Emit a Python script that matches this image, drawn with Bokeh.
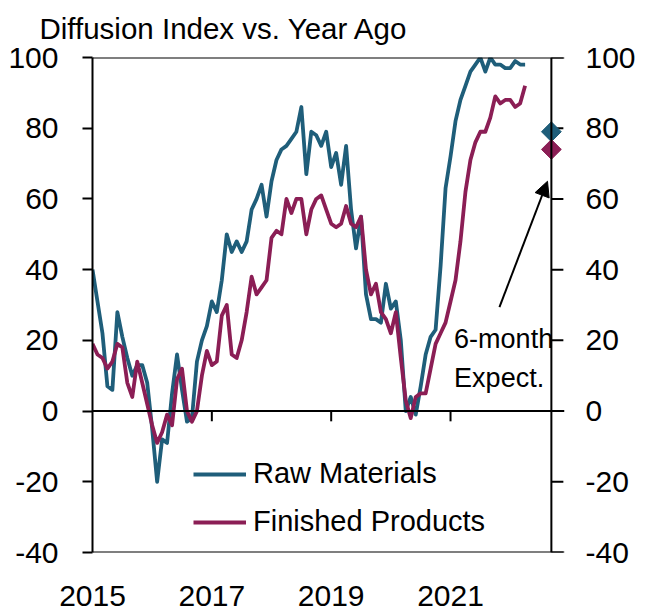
import math
from bokeh.plotting import figure
from bokeh.models import (Range1d, LinearAxis, FixedTicker, Span, Legend, LegendItem,
                          Arrow, NormalHead, Label, Title)
from bokeh.embed import file_html
from bokeh.resources import INLINE

# ---- data (monthly, starting Jan 2015) ----
start_year = 2015
raw_materials = [40, 31, 22, 7, 6, 28, 21, 15, 10, 13, 13, 8,
                 -5, -20, -8, -9, 5, 16, 6, -3, -2, 14, 20, 24,
                 31, 28, 37, 50, 45, 48, 45, 48, 57, 60, 64, 55,
                 65, 71, 74, 75, 77, 79, 86, 67, 79, 78, 75, 79,
                 69, 73, 64, 75, 57, 46, 55, 33, 26, 26, 25, 36,
                 29, 31, 20, 0, 4, -1, 7, 16, 21, 23, 41, 63,
                 72, 82, 88, 92, 96, 98, 100, 96, 100, 98, 98, 97,
                 97, 99, 98, 98]
finished_products = [19, 16, 15, 12, 14, 19, 18, 8, 4, 14, 8, 2,
                     -4, -9, -6, -1, -4, 9, 12, 0, -3, 0, 10, 17,
                     13, 14, 27, 30, 16, 15, 20, 28, 38, 33, 35, 37,
                     49, 51, 50, 60, 56, 60, 60, 50, 57, 60, 61, 57,
                     53, 52, 53, 58, 53, 52, 55, 40, 33, 36, 28, 26,
                     22, 28, 15, 3, -2, 4, 5, 5, 12, 19, 22, 25,
                     31, 37, 48, 62, 71, 76, 79, 79, 83, 89, 87, 88,
                     88, 86, 87, 92]
expect_values = [79, 74]          # 6-month expectation: raw, finished
expect_date = 2022.69             # plotted on the right-hand axis
y_ticks = [-40, -20, 0, 20, 40, 60, 80, 100]
year_ticks = [2015, 2017, 2019, 2021]
series_names = ["Raw Materials", "Finished Products"]
title_text = "Diffusion Index vs. Year Ago"

months = [start_year + i / 12 for i in range(len(raw_materials))]

SANS = "Liberation Sans"
BLUE = "#1f5e7a"
RED = "#8b1e55"
TICK_FONT = "30px"
TICK_LEN_YEARS = 0.201   # 12px tick length of the right axis, in x units
TICK_LEN_Y = 2.9         # 10px tick length on the zero line, in y units

p = figure(width=649, height=615,
           x_range=Range1d(2015, 2022.91), y_range=Range1d(-40, 100),
           output_backend="svg", toolbar_location=None, title=None,
           x_axis_type=None, y_axis_type=None,
           min_border_left=92, min_border_right=85,
           min_border_top=56, min_border_bottom=63)
p.outline_line_color = None
p.background_fill_color = "white"
p.border_fill_color = "white"

p.add_layout(Title(text=title_text, align="left", offset=-53, standoff=22,
                   vertical_align="top",
                   text_font=SANS, text_font_size="29.5px",
                   text_font_style="normal", text_color="black"), "above")

y_labels = {t: str(t) for t in y_ticks}

left_axis = LinearAxis(ticker=FixedTicker(ticks=y_ticks),
                       major_label_overrides=y_labels,
                       axis_line_width=2, axis_line_color="black",
                       major_tick_line_width=2, major_tick_line_color="black",
                       major_tick_out=10, major_tick_in=0,
                       minor_tick_line_color=None,
                       major_label_standoff=24,
                       major_label_text_font=SANS,
                       major_label_text_font_size=TICK_FONT,
                       major_label_text_color="black")
p.add_layout(left_axis, "left")

# right-hand labels (axis line and ticks are drawn at the expectation date)
right_axis = LinearAxis(ticker=FixedTicker(ticks=y_ticks),
                        major_label_overrides=y_labels,
                        axis_line_color=None, major_tick_line_color=None,
                        major_tick_out=0, major_tick_in=0,
                        minor_tick_line_color=None,
                        major_label_standoff=21,
                        major_label_text_font=SANS,
                        major_label_text_font_size=TICK_FONT,
                        major_label_text_color="black")
p.add_layout(right_axis, "right")

xaxis = LinearAxis(ticker=FixedTicker(ticks=year_ticks),
                   axis_line_color=None, major_tick_line_color=None,
                   major_tick_out=0, major_tick_in=0,
                   minor_tick_line_color=None, major_label_standoff=33,
                   major_label_text_line_height=0.9,
                   major_label_text_font=SANS,
                   major_label_text_font_size=TICK_FONT,
                   major_label_text_color="black")
p.add_layout(xaxis, "below")

for loc in (100, -40, 0):
    p.add_layout(Span(location=loc, dimension="width",
                      line_color="black", line_width=2))
p.add_layout(Span(location=expect_date, dimension="height",
                  line_color="black", line_width=2))

# right-hand axis ticks
p.segment(x0=[expect_date] * len(y_ticks), y0=y_ticks,
          x1=[expect_date + TICK_LEN_YEARS] * len(y_ticks), y1=y_ticks,
          line_color="black", line_width=2)

# year ticks on the zero line
p.segment(x0=year_ticks[1:], y0=[0] * 3, x1=year_ticks[1:],
          y1=[-TICK_LEN_Y] * 3, line_color="black", line_width=2)

r_raw = p.line(months, raw_materials, line_color=BLUE, line_width=3.8,
               line_join="round")
r_fin = p.line(months, finished_products, line_color=RED, line_width=3.8,
               line_join="round")

p.scatter(x=[expect_date] * 2, y=expect_values, marker="square",
          angle=math.pi / 4, size=14, fill_color=[BLUE, RED],
          line_color=[BLUE, RED])

legend = Legend(items=[LegendItem(label=series_names[0], renderers=[r_raw]),
                       LegendItem(label=series_names[1], renderers=[r_fin])],
                location=(101, 14), label_text_font=SANS,
                label_text_font_size="29px", label_text_color="black",
                glyph_width=53, glyph_height=20, label_standoff=7,
                spacing=15, padding=0, margin=0,
                border_line_color=None, background_fill_alpha=0)
p.add_layout(legend)

p.add_layout(Arrow(end=NormalHead(size=15, fill_color="black", line_color="black"),
                   x_start=2021.82, y_start=29.4, x_end=2022.625, y_end=65.0,
                   line_width=2, line_color="black"))

p.add_layout(Label(x=2021.06, y=20.4, text="6-month", text_font=SANS,
                   text_font_size="27px", text_baseline="alphabetic",
                   text_color="black"))
p.add_layout(Label(x=2021.06, y=9.4, text="Expect.", text_font=SANS,
                   text_font_size="27px", text_baseline="alphabetic",
                   text_color="black"))

open("out.html", "w").write(file_html(p, INLINE))
